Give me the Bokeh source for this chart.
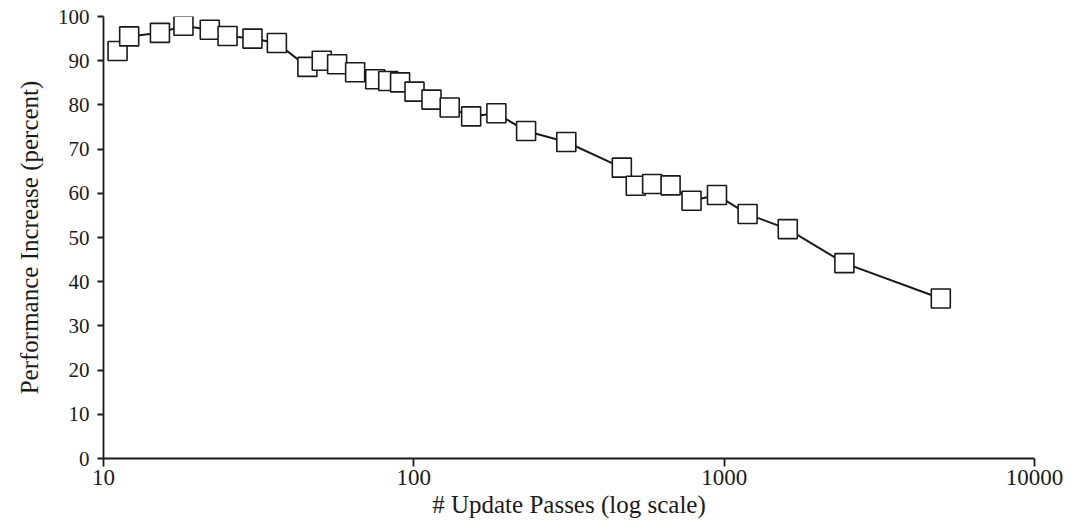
from bokeh.plotting import figure
from bokeh.embed import file_html
from bokeh.resources import INLINE
from bokeh.models import FixedTicker, ColumnDataSource

# Data
update_passes = [11.1, 12.1, 15.2, 18.1, 22.0, 25.1, 30.2, 36.2, 45.4, 50.5,
                 56.6, 64.7, 75.1, 82.7, 90.3, 100.5, 114, 130.5, 153, 184.5,
                 230, 310, 468, 519, 586, 672, 785, 948, 1190, 1603, 2440, 4990]
perf_increase = [92.2, 95.5, 96.3, 97.9, 97.0, 95.6, 95.0, 94.0, 88.6, 90.0,
                 89.2, 87.4, 85.8, 85.4, 85.1, 83.0, 81.2, 79.4, 77.4, 78.1,
                 74.1, 71.6, 65.8, 61.7, 62.1, 61.8, 58.3, 59.6, 55.3, 51.9, 44.2, 36.2]
x_ticks = [10, 100, 1000, 10000]
y_ticks = [0, 10, 20, 30, 40, 50, 60, 70, 80, 90, 100]

FONT = "Liberation Serif"

src = ColumnDataSource(dict(x=update_passes, y=perf_increase))

p = figure(width=1089, height=531, x_axis_type="log",
           x_range=(10, 10000), y_range=(0, 100),
           output_backend="svg", toolbar_location=None,
           min_border_left=103, min_border_right=55,
           min_border_top=16, min_border_bottom=73)
p.outline_line_color = None
p.xgrid.visible = False
p.ygrid.visible = False
p.background_fill_color = "white"
p.border_fill_color = "white"

p.line("x", "y", source=src, line_color="#1a1a1a", line_width=2)
p.scatter("x", "y", source=src, marker="square", size=19,
          fill_color="white", line_color="#1a1a1a", line_width=1.6)

for ax in (p.xaxis[0], p.yaxis[0]):
    ax.axis_line_color = "#1a1a1a"
    ax.axis_line_width = 1.8
    ax.major_tick_line_color = "#1a1a1a"
    ax.major_tick_line_width = 1.8
    ax.minor_tick_line_color = None
    ax.major_tick_in = 0
    ax.major_label_text_font = FONT
    ax.major_label_text_color = "#1a1a1a"
    ax.axis_label_text_font = FONT
    ax.axis_label_text_font_size = "25px"
    ax.axis_label_text_font_style = "normal"
    ax.axis_label_text_color = "#1a1a1a"

p.xaxis.ticker = FixedTicker(ticks=x_ticks)
p.xaxis.major_label_overrides = {t: str(t) for t in x_ticks}
p.xaxis.major_label_text_font_size = "23px"
p.xaxis.major_tick_out = 8
p.xaxis.major_label_standoff = 3
p.xaxis.axis_label = "# Update Passes (log scale)"
p.xaxis.axis_label_standoff = 3

p.yaxis.ticker = FixedTicker(ticks=y_ticks)
p.yaxis.major_label_text_font_size = "21px"
p.yaxis.major_tick_out = 6
p.yaxis.major_label_standoff = 8
p.yaxis.axis_label = "Performance Increase (percent)"
p.yaxis.axis_label_standoff = 12

open("out.html", "w").write(file_html(p, INLINE))
